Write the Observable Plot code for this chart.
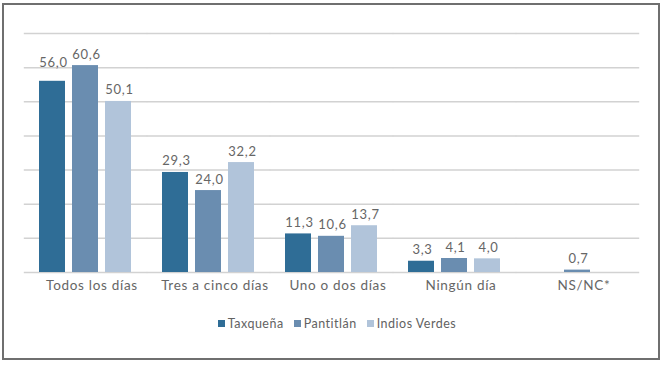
<!DOCTYPE html>
<html>
<head>
<meta charset="utf-8">
<script src="https://cdn.jsdelivr.net/npm/d3@7"></script>
<script src="https://cdn.jsdelivr.net/npm/@observablehq/plot@0.6"></script>
<style>
  html, body { margin: 0; padding: 0; background: #fff; }
  #wrap { position: relative; width: 666px; height: 365px; overflow: hidden; font-family: Lato, "Open Sans", sans-serif; }
  #border { position: absolute; left: 2px; top: 3px; width: 654px; height: 353px; border: 2px solid #6f6f6f; pointer-events: none; }
  #chart { position: absolute; left: 0; top: 0; }
  #legend { position: absolute; left: 0; top: 316px; width: 666px; display: flex; justify-content: center; gap: 10px; font-size: 12.5px; color: #626262; letter-spacing: 0.5px; padding-left: 8px; box-sizing: border-box; }
  .item { display: flex; align-items: center; }
  .sw { width: 7px; height: 7px; margin-right: 3px; display: inline-block; }
</style>
</head>
<body>
<div id="wrap">
  <div id="chart"></div>
  <div id="legend"></div>
  <div id="border"></div>
</div>
<script>
const categories = ["Todos los días", "Tres a cinco días", "Uno o dos días", "Ningún día", "NS/NC*"];
const series = ["Taxqueña", "Pantitlán", "Indios Verdes"];
const taxquena = [56.0, 29.3, 11.3, 3.3, null];
const pantitlan = [60.6, 24.0, 10.6, 4.1, 0.7];
const indiosVerdes = [50.1, 32.2, 13.7, 4.0, null];
const colors = ["#2f6d96", "#6a8db0", "#b1c4da"];
const gridTicks = [0, 10, 20, 30, 40, 50, 60, 70];

const valuesBySeries = [taxquena, pantitlan, indiosVerdes];
const data = [];
categories.forEach((c, i) => {
  series.forEach((s, j) => {
    const v = valuesBySeries[j][i];
    if (v != null) data.push({category: c, series: s, value: v});
  });
});
const fmt = v => v.toFixed(1).replace(".", ",");
// the first label is nudged up in the original to stay clear of its neighbour
const isNudged = d => d.category === categories[0] && d.series === series[0];

const chart = Plot.plot({
  width: 666,
  height: 300,
  marginTop: 33,
  marginBottom: 28,
  marginLeft: 22,
  marginRight: 26,
  style: {fontFamily: "Lato, 'Open Sans', sans-serif", color: "#666666", background: "transparent"},
  fx: {domain: categories, paddingInner: 0.23, paddingOuter: 0.115, label: null, axis: "bottom", tickSize: 0, tickPadding: 8},
  x: {domain: series, paddingInner: 0.2, paddingOuter: 0, axis: null},
  y: {domain: [0, 70], axis: null},
  color: {domain: series, range: colors},
  marks: [
    Plot.ruleY(gridTicks, {stroke: "#d2d2d2", strokeWidth: 1.5, insetLeft: -14.2, insetRight: -14.2}),
    Plot.barY(data, {fx: "category", x: "series", y: "value", fill: "series"}),
    Plot.text(data.filter(d => !isNudged(d)), {fx: "category", x: "series", y: "value", text: d => fmt(d.value), lineAnchor: "bottom", dy: -7, dx: 1, fontSize: 13, fill: "#666666"}),
    Plot.text(data.filter(isNudged), {fx: "category", x: "series", y: "value", text: d => fmt(d.value), lineAnchor: "bottom", dy: -14, dx: 1, fontSize: 13, fill: "#666666"})
  ]
});
chart.querySelectorAll("g[aria-label='fx-axis tick label'] text").forEach(t => {
  t.style.fontSize = "13.5px";
  t.style.letterSpacing = "0.7px";
  t.setAttribute("fill", "#666666");
  t.setAttribute("dx", "6");
});
chart.querySelectorAll("g[aria-label='text'] text").forEach(t => { t.style.letterSpacing = "0.7px"; });
document.getElementById("chart").appendChild(chart);

const legend = document.getElementById("legend");
series.forEach((s, i) => {
  const it = document.createElement("span");
  it.className = "item";
  const sw = document.createElement("span");
  sw.className = "sw";
  sw.style.background = colors[i];
  it.appendChild(sw);
  it.appendChild(document.createTextNode(s));
  legend.appendChild(it);
});
</script>
</body>
</html>
